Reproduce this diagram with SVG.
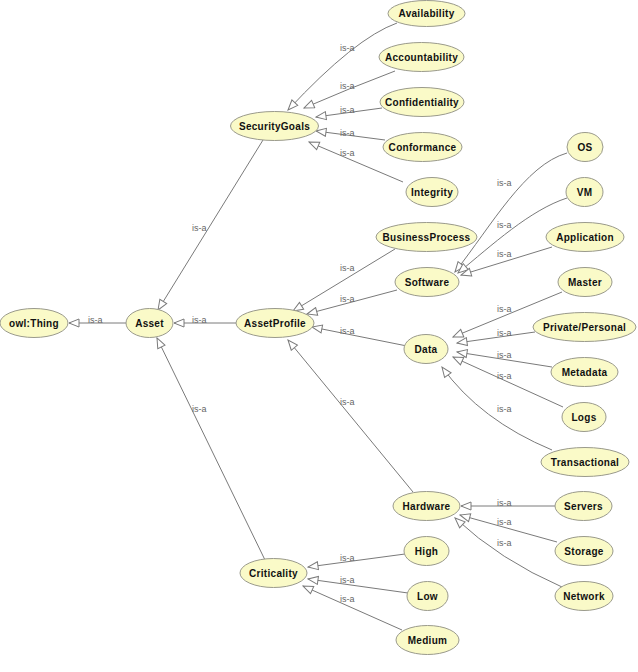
<svg xmlns="http://www.w3.org/2000/svg" width="638" height="672" viewBox="0 0 638 672">
<style>
.n ellipse{fill:#fafac8;stroke:#9a9a8c;stroke-width:1}
.n text{font-family:"Liberation Sans",Arial,sans-serif;font-size:10px;font-weight:bold;fill:#111;text-anchor:middle;letter-spacing:0.3px}
.e path{fill:none;stroke:#7a7a7a;stroke-width:1;marker-end:url(#tri)}
.e text{font-family:"Liberation Sans",Arial,sans-serif;font-size:9px;fill:#666}
</style>
<defs>
<marker id="tri" markerUnits="userSpaceOnUse" markerWidth="12" markerHeight="10" refX="11" refY="5" orient="auto">
<path d="M1,1 L11,5 L1,9 Z" fill="#fff" stroke="#7a7a7a" stroke-width="1"/>
</marker>
</defs>
<rect width="638" height="672" fill="#fff"/>
<g id="connectors" class="e">
<path d="M126,323 L69,323"/>
<path d="M236,323 L174,323"/>
<path d="M263,140 L158,310"/>
<path d="M265,560 L157,338"/>
<path d="M397,23 Q355,38 288,110"/>
<path d="M395,71 Q350,88 304,108"/>
<path d="M382,108 L316,117"/>
<path d="M385,140 L316,131"/>
<path d="M403,182 L309,142"/>
<path d="M395,249 L293,311"/>
<path d="M397,290 L307,314"/>
<path d="M407,346 L312,327"/>
<path d="M413,492 L288,340"/>
<path d="M567,153 C525,165 492,225 455,272"/>
<path d="M567,198 C530,210 492,245 458,273"/>
<path d="M552,247 L461,275"/>
<path d="M562,292 L453,337"/>
<path d="M535,332 L457,343"/>
<path d="M552,367 L457,352"/>
<path d="M563,407 L453,357"/>
<path d="M552,450 Q480,420 442,367"/>
<path d="M555,506 L461,506"/>
<path d="M557,542 L460,515"/>
<path d="M562,587 Q500,560 455,518"/>
<path d="M405,554 L308,567"/>
<path d="M408,593 L308,579"/>
<path d="M402,630 L303,586"/>
<text x="88" y="323">is-a</text>
<text x="192" y="323">is-a</text>
<text x="192" y="231">is-a</text>
<text x="192" y="412">is-a</text>
<text x="340" y="51">is-a</text>
<text x="340" y="89">is-a</text>
<text x="340" y="113">is-a</text>
<text x="340" y="136">is-a</text>
<text x="340" y="156">is-a</text>
<text x="340" y="271">is-a</text>
<text x="340" y="302">is-a</text>
<text x="340" y="334">is-a</text>
<text x="340" y="405">is-a</text>
<text x="497" y="186">is-a</text>
<text x="497" y="228">is-a</text>
<text x="497" y="257">is-a</text>
<text x="497" y="312">is-a</text>
<text x="497" y="336">is-a</text>
<text x="497" y="358">is-a</text>
<text x="497" y="379">is-a</text>
<text x="497" y="412">is-a</text>
<text x="497" y="506">is-a</text>
<text x="497" y="525">is-a</text>
<text x="497" y="546">is-a</text>
<text x="340" y="561">is-a</text>
<text x="340" y="583">is-a</text>
<text x="340" y="602">is-a</text>
</g>
<g id="owlThing" class="n"><ellipse cx="34" cy="323" rx="34" ry="14.5"/><text x="34" y="326.5">owl:Thing</text></g>
<g id="Asset" class="n"><ellipse cx="149.5" cy="323" rx="23.5" ry="14.5"/><text x="149.5" y="326.5">Asset</text></g>
<g id="AssetProfile" class="n"><ellipse cx="275" cy="323" rx="39" ry="14.5"/><text x="275" y="326.5">AssetProfile</text></g>
<g id="SecurityGoals" class="n"><ellipse cx="274.5" cy="126" rx="44" ry="14.5"/><text x="274.5" y="129.5">SecurityGoals</text></g>
<g id="Criticality" class="n"><ellipse cx="273.5" cy="573" rx="33.5" ry="14.5"/><text x="273.5" y="576.5">Criticality</text></g>
<g id="Availability" class="n"><ellipse cx="426.5" cy="13.5" rx="38.5" ry="13"/><text x="426.5" y="17">Availability</text></g>
<g id="Accountability" class="n"><ellipse cx="421.5" cy="57" rx="42.5" ry="14.5"/><text x="421.5" y="60.5">Accountability</text></g>
<g id="Confidentiality" class="n"><ellipse cx="422" cy="102" rx="42" ry="14.5"/><text x="422" y="105.5">Confidentiality</text></g>
<g id="Conformance" class="n"><ellipse cx="422.5" cy="147" rx="39.5" ry="14.5"/><text x="422.5" y="150.5">Conformance</text></g>
<g id="Integrity" class="n"><ellipse cx="432" cy="192" rx="26" ry="14.5"/><text x="432" y="195.5">Integrity</text></g>
<g id="BusinessProcess" class="n"><ellipse cx="426.5" cy="237" rx="50.5" ry="14.5"/><text x="426.5" y="240.5">BusinessProcess</text></g>
<g id="Software" class="n"><ellipse cx="427" cy="282" rx="32" ry="14.5"/><text x="427" y="285.5">Software</text></g>
<g id="Data" class="n"><ellipse cx="426" cy="349" rx="22" ry="14.5"/><text x="426" y="352.5">Data</text></g>
<g id="Hardware" class="n"><ellipse cx="426.5" cy="506" rx="33.5" ry="14.5"/><text x="426.5" y="509.5">Hardware</text></g>
<g id="High" class="n"><ellipse cx="426.5" cy="551" rx="22.5" ry="14.5"/><text x="426.5" y="554.5">High</text></g>
<g id="Low" class="n"><ellipse cx="427.5" cy="596" rx="20.5" ry="14.5"/><text x="427.5" y="599.5">Low</text></g>
<g id="Medium" class="n"><ellipse cx="427.5" cy="640" rx="31.5" ry="14.5"/><text x="427.5" y="643.5">Medium</text></g>
<g id="OS" class="n"><ellipse cx="585" cy="147" rx="18" ry="14.5"/><text x="585" y="150.5">OS</text></g>
<g id="VM" class="n"><ellipse cx="584.5" cy="192" rx="18.5" ry="14.5"/><text x="584.5" y="195.5">VM</text></g>
<g id="Application" class="n"><ellipse cx="585" cy="237" rx="39" ry="14.5"/><text x="585" y="240.5">Application</text></g>
<g id="Master" class="n"><ellipse cx="585" cy="282" rx="27" ry="14.5"/><text x="585" y="285.5">Master</text></g>
<g id="PrivatePersonal" class="n"><ellipse cx="584.5" cy="327" rx="51.5" ry="14.5"/><text x="584.5" y="330.5">Private/Personal</text></g>
<g id="Metadata" class="n"><ellipse cx="584.5" cy="372" rx="33.5" ry="14.5"/><text x="584.5" y="375.5">Metadata</text></g>
<g id="Logs" class="n"><ellipse cx="584" cy="417" rx="22" ry="14.5"/><text x="584" y="420.5">Logs</text></g>
<g id="Transactional" class="n"><ellipse cx="585" cy="462" rx="44" ry="14.5"/><text x="585" y="465.5">Transactional</text></g>
<g id="Servers" class="n"><ellipse cx="583.5" cy="506" rx="28.5" ry="14.5"/><text x="583.5" y="509.5">Servers</text></g>
<g id="Storage" class="n"><ellipse cx="584" cy="551" rx="29" ry="14.5"/><text x="584" y="554.5">Storage</text></g>
<g id="Network" class="n"><ellipse cx="584" cy="596" rx="29" ry="14.5"/><text x="584" y="599.5">Network</text></g>
</svg>
